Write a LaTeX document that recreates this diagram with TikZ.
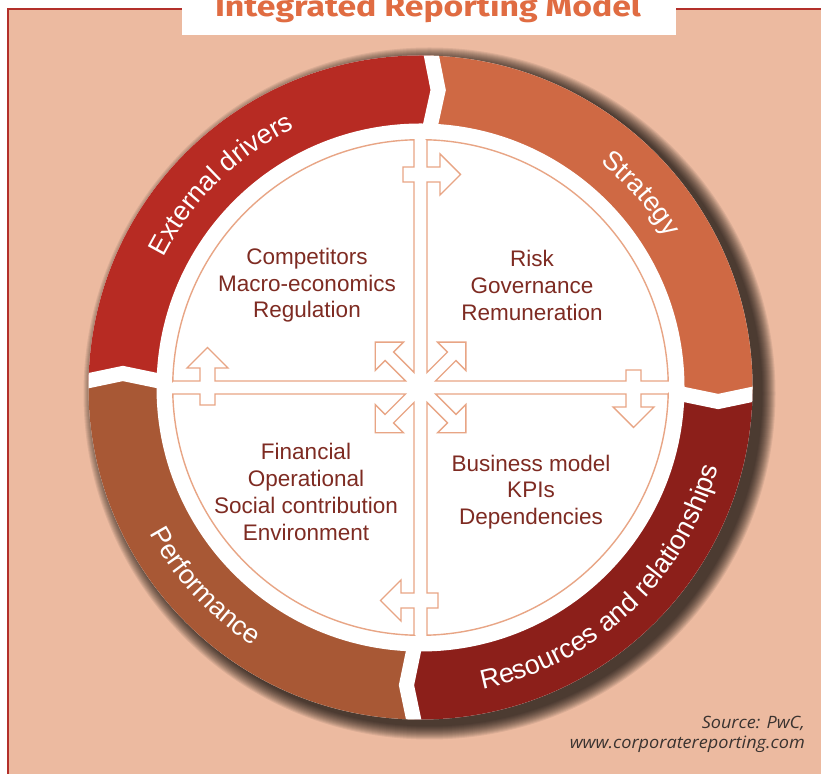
\documentclass[tikz,border=0pt]{standalone}
\usepackage{fontspec}
\setmainfont{Liberation Sans}
\newfontfamily\titlefont{Fira Sans}
\newfontfamily\srcfont{Open Sans}
\usetikzlibrary{decorations.text}
\definecolor{bgpeach}{HTML}{ECBAA0}
\definecolor{framered}{HTML}{B3302A}
\definecolor{titleorange}{HTML}{E06C42}
\definecolor{extred}{HTML}{B72B23}
\definecolor{stratorange}{HTML}{CF6944}
\definecolor{resred}{HTML}{8C1F1A}
\definecolor{perfbrown}{HTML}{A85835}
\definecolor{linecol}{HTML}{E8A585}
\definecolor{textred}{HTML}{7E2B22}
\definecolor{srcgray}{HTML}{3A3330}
\newcommand\ringfont{\fontsize{27}{30}\selectfont}
\tikzset{
  quad/.style={draw=linecol, line width=1.4pt, line join=miter},
  sepband/.style={draw=white, line width=15pt, line join=miter},
  innertext/.style={text=textred, align=center, font=\fontsize{22.5}{26.7}\selectfont, inner sep=0pt},
  ringlabel/.style={decorate, decoration={text along path, text align=center, text color=white}}
}
\begin{document}
\begin{tikzpicture}[x=1pt,y=1pt]
\useasboundingbox (0,0) rectangle (821,773);
\clip (0,0) rectangle (821,773);
\fill[white] (0,0) rectangle (821,773);
% frame
\fill[bgpeach] (8,764) rectangle (830,-10);
\draw[framered, line width=2.2pt] (8,-10) -- (8,764) -- (830,764);
% title
\fill[white] (182,780) rectangle (676,738);
\node[anchor=base, text=titleorange, inner sep=0pt] (title) at (428,756)
  {\resizebox{426pt}{\height}{\titlefont\bfseries\fontsize{28.5}{30}\selectfont Integrated Reporting Model}};
% shadow
\begin{scope}[shift={(429.5,379.5)}]
  \foreach \i in {0,...,13} {\fill[black, opacity=0.075] (0,0) circle ({332+14-\i});}
\end{scope}
% ring
\begin{scope}[shift={(420.5,385.5)}]
  \fill[white] (0,0) circle (332);
  \begin{scope}
    \clip (0,0) circle (332);
    \fill[extred] (179.5:250) -- (177.3:298) -- (179.5:345) arc[start angle=179.5, end angle=88.8, radius=345]
      -- (86.6:298) -- (88.8:250) arc[start angle=88.8, end angle=179.5, radius=250] -- cycle;
    \fill[stratorange] (88.8:250) -- (86.6:298) -- (88.8:345) arc[start angle=88.8, end angle=-0.5, radius=345]
      -- (-2.7:298) -- (-0.5:250) arc[start angle=-0.5, end angle=88.8, radius=250] -- cycle;
    \fill[resred] (-0.5:250) -- (-2.7:298) -- (-0.5:345) arc[start angle=-0.5, end angle=-90.5, radius=345]
      -- (-92.7:298) -- (-90.5:250) arc[start angle=-90.5, end angle=-0.5, radius=250] -- cycle;
    \fill[perfbrown] (-90.5:250) -- (-92.7:298) -- (-90.5:345) arc[start angle=-90.5, end angle=-180.5, radius=345]
      -- (-182.7:298) -- (-180.5:250) arc[start angle=-180.5, end angle=-90.5, radius=250] -- cycle;
    \foreach \t in {88.8,-0.5,-90.5,179.5} {\draw[sepband] (\t:240) -- ({\t-2.2}:298) -- (\t:350);}
  \end{scope}
  \fill[white] (0,0) circle (264);
  % cross with arrows
  \foreach \a in {0,-90,-180,-270} {
    \begin{scope}[rotate=\a]
      \draw[quad] (6.5,247.7) -- (6.5,220.5) -- (19.5,220.5) -- (19.5,233.5) -- (40,213) -- (19.5,192.5)
        -- (19.5,205.5) -- (6.5,205.5) -- (6.5,15) -- (26.9,35.4) -- (17,45.3) -- (45.3,45.3) -- (45.3,17)
        -- (35.4,26.9) -- (15,6.5) -- (205.5,6.5) -- (205.5,17.5) -- (220.5,17.5) -- (220.5,6.5) -- (247.7,6.5)
        arc[start angle=1.503, end angle=88.497, radius=247.8] -- cycle;
    \end{scope}
  }
  % ring labels
  \path[ringlabel, decoration={text={|\ringfont|External drivers}}] (174.5:288) arc[start angle=174.5, end angle=94.5, radius=288];
  \path[ringlabel, decoration={text={|\ringfont|Strategy}}] (76.4:288) arc[start angle=76.4, end angle=6.4, radius=288];
  \path[ringlabel, decoration={text={|\ringfont|Resources and relationships}}] (-91.7:308) arc[start angle=-91.7, end angle=-1.7, radius=308];
  \path[ringlabel, decoration={text={|\ringfont|Performance}}] (182.7:308) arc[start angle=182.7, end angle=262.7, radius=308];
\end{scope}
% inner texts
\node[innertext] (tl) at (307,487.7) {Competitors\\Macro-economics\\Regulation};
\node[innertext] (tr) at (532,487.7) {Risk\\Governance\\Remuneration};
\node[innertext] (bl) at (306,281) {Financial\\Operational\\Social contribution\\Environment};
\node[innertext] (br) at (531,281) {Business model\\KPIs\\Dependencies};
% source
\node[anchor=base east, text=srcgray, inner sep=0pt] (src1) at (805,45)
  {\resizebox{103pt}{\height}{\srcfont\itshape\fontsize{17}{20}\selectfont Source: PwC,}};
\node[anchor=base east, text=srcgray, inner sep=0pt] (src2) at (805,24)
  {\resizebox{235pt}{\height}{\srcfont\itshape\fontsize{17}{20}\selectfont www.corporatereporting.com}};
\end{tikzpicture}
\end{document}
